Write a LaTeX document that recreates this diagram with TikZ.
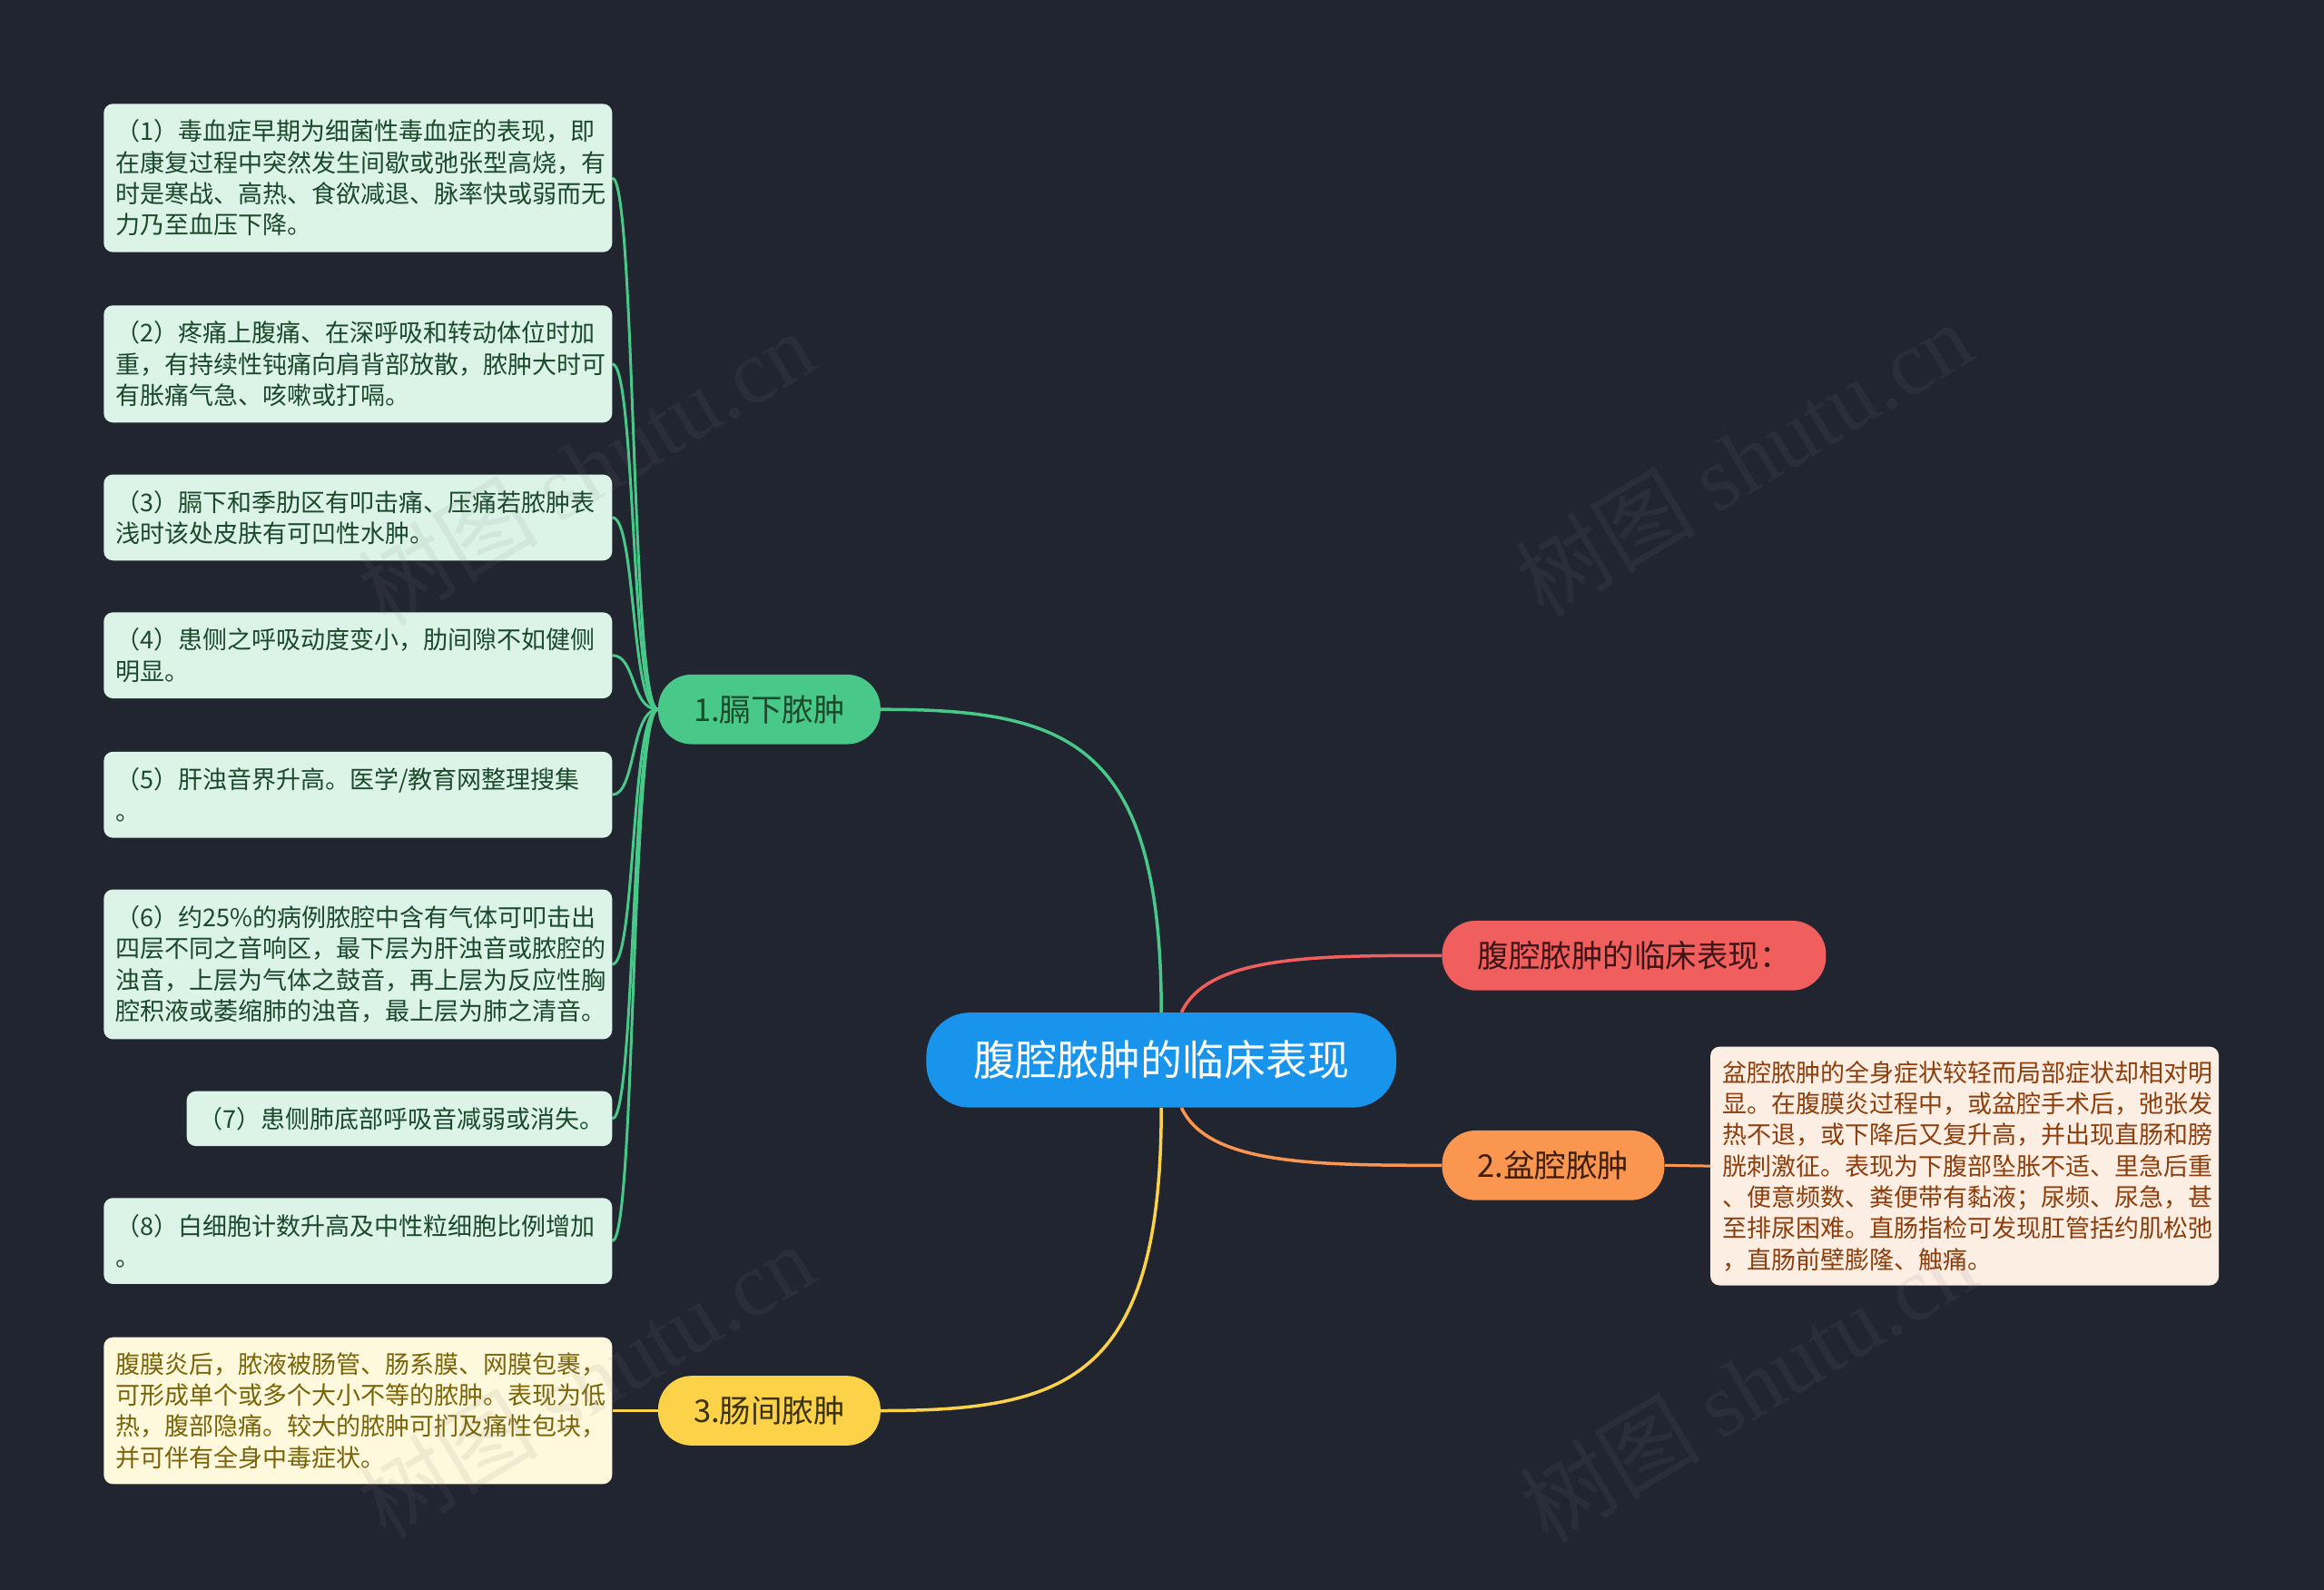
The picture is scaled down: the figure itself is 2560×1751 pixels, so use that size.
\documentclass[tikz,border=0pt]{standalone}
\usepackage{fontspec}
\setmainfont{Noto Sans CJK SC}
\newfontfamily\wmserif{Liberation Serif}
\definecolor{bgc}{RGB}{33,37,48}
\definecolor{cgreen}{RGB}{72,201,138}
\definecolor{lgreen}{RGB}{219,244,231}
\definecolor{tgreen}{RGB}{28,72,44}
\definecolor{cblue}{RGB}{24,148,236}
\definecolor{cred}{RGB}{241,94,94}
\definecolor{tred}{RGB}{60,22,22}
\definecolor{corange}{RGB}{250,150,80}
\definecolor{torange}{RGB}{60,30,10}
\definecolor{lorange}{RGB}{253,238,228}
\definecolor{dorange}{RGB}{140,62,12}
\definecolor{cyellow}{RGB}{252,211,72}
\definecolor{tyellow}{RGB}{60,50,10}
\definecolor{lyellow}{RGB}{254,248,220}
\definecolor{dyellow}{RGB}{122,100,10}
\pgfdeclarelayer{background}
\pgfsetlayers{background,main}
\begin{document}
\begin{tikzpicture}[x=1pt,y=-1pt,
  central/.style={fill=cblue, text=white, rounded corners=48pt, minimum width=517.6pt, minimum height=104.5pt, inner sep=0pt, font=\fontsize{46}{52}\selectfont},
  level1/.style={rounded corners=37pt, minimum height=76.7pt, inner sep=0pt, font=\fontsize{34.5}{38}\selectfont},
  detail/.style={rounded corners=10pt, text width=542pt, inner xsep=9pt, inner ysep=0pt, align=left, font=\fontsize{27}{34.3}\selectfont},
  gdetail/.style={detail, fill=lgreen, text=tgreen},
  mainline/.style={line width=3.5pt},
  subline/.style={line width=3pt, cgreen},
  wmark/.style={rotate=31, text=gray, opacity=0.11, font=\fontsize{100}{110}\selectfont}
]
\useasboundingbox (0,0) rectangle (2560,1751);

% central and level-1 nodes
\node[central] (c) at (1279.2,1167.4) {腹腔脓肿的临床表现};
\node[level1, fill=cgreen, text=tgreen, minimum width=244.9pt] (n1) at (847.4,781.2) {1.膈下脓肿};
\node[level1, fill=cred, text=tred, minimum width=422.9pt] (r) at (1800,1052.3) {腹腔脓肿的临床表现：};
\node[level1, fill=corange, text=torange, minimum width=244.9pt] (o) at (1711,1283.3) {2.盆腔脓肿};
\node[level1, fill=cyellow, text=tyellow, minimum width=244.9pt] (y) at (847.4,1553.5) {3.肠间脓肿};

% detail boxes of 1
\node[gdetail, minimum height=163.3pt] (b1) at (394.3,196) {\hspace*{4pt}（1）毒血症早期为细菌性毒血症的表现，即\\\hspace*{4pt}在康复过程中突然发生间歇或弛张型高烧，有\\\hspace*{4pt}时是寒战、高热、食欲减退、脉率快或弱而无\\\hspace*{4pt}力乃至血压下降。};
\node[gdetail, minimum height=129pt] (b2) at (394.3,400.8) {\hspace*{4pt}（2）疼痛上腹痛、在深呼吸和转动体位时加\\\hspace*{4pt}重，有持续性钝痛向肩背部放散，脓肿大时可\\\hspace*{4pt}有胀痛气急、咳嗽或打嗝。};
\node[gdetail, minimum height=94.7pt] (b3) at (394.3,569.9) {\hspace*{4pt}（3）膈下和季肋区有叩击痛、压痛若脓肿表\\\hspace*{4pt}浅时该处皮肤有可凹性水肿。};
\node[gdetail, minimum height=94.7pt] (b4) at (394.3,721.7) {\hspace*{4pt}（4）患侧之呼吸动度变小，肋间隙不如健侧\\\hspace*{4pt}明显。};
\node[gdetail, minimum height=94.7pt] (b5) at (394.3,875.2) {\hspace*{4pt}（5）肝浊音界升高。医学/教育网整理搜集\\\hspace*{4pt}。};
\node[gdetail, minimum height=164.9pt] (b6) at (394.3,1062) {\hspace*{4pt}（6）约25\%的病例脓腔中含有气体可叩击出\\\hspace*{4pt}四层不同之音响区，最下层为肝浊音或脓腔的\\\hspace*{4pt}浊音，上层为气体之鼓音，再上层为反应性胸\\\hspace*{4pt}腔积液或萎缩肺的浊音，最上层为肺之清音。};
\node[gdetail, text width=450.6pt, minimum height=60.4pt] (b7) at (440,1231.9) {\hspace*{4pt}（7）患侧肺底部呼吸音减弱或消失。};
\node[gdetail, minimum height=94.7pt] (b8) at (394.3,1366.6) {\hspace*{4pt}（8）白细胞计数升高及中性粒细胞比例增加\\\hspace*{4pt}。};

% detail of 3
\node[detail, fill=lyellow, text=dyellow, minimum height=161.6pt] (yd) at (394.3,1553.5) {\hspace*{4pt}腹膜炎后，脓液被肠管、肠系膜、网膜包裹，\\\hspace*{4pt}可形成单个或多个大小不等的脓肿。表现为低\\\hspace*{4pt}热，腹部隐痛。较大的脓肿可扪及痛性包块，\\\hspace*{4pt}并可伴有全身中毒症状。};

% detail of 2
\node[detail, fill=lorange, text=dorange, minimum height=262.8pt] (od) at (2164.1,1284.1) {\hspace*{4pt}盆腔脓肿的全身症状较轻而局部症状却相对明\\\hspace*{4pt}显。在腹膜炎过程中，或盆腔手术后，弛张发\\\hspace*{4pt}热不退，或下降后又复升高，并出现直肠和膀\\\hspace*{4pt}胱刺激征。表现为下腹部坠胀不适、里急后重\\\hspace*{4pt}、便意频数、粪便带有黏液；尿频、尿急，甚\\\hspace*{4pt}至排尿困难。直肠指检可发现肛管括约肌松弛\\\hspace*{4pt}，直肠前壁膨隆、触痛。};

\begin{pgfonlayer}{background}
\fill[bgc] (0,0) rectangle (2560,1751);
\draw[mainline, cgreen] (c.north) .. controls +(0,-299) and +(206,0) .. (n1.east);
\draw[mainline, cyellow] (c.south) .. controls +(0,299) and +(206,0) .. (y.east);
\draw[mainline, cred] (c.67) .. controls +(29,-63) and +(-139,0) .. (r.west);
\draw[mainline, corange] (c.-67) .. controls +(29,63) and +(-139,0) .. (o.west);
\foreach \b in {b1,b2,b3,b4,b5,b6,b7,b8}
  \draw[subline] (n1.west) .. controls +(-30,0) and +(26,0) .. (\b.east);
\draw[line width=3pt, cyellow] (y.west) -- (yd.east);
\draw[line width=3pt, corange] (o.east) -- (od.west);
\end{pgfonlayer}

% watermarks
\node[wmark] (w1) at (645,515) {树图 {\wmserif shutu.cn}};
\node[wmark] (w2) at (1920,505) {树图 {\wmserif shutu.cn}};
\node[wmark] (w3) at (645,1520) {树图 {\wmserif shutu.cn}};
\node[wmark] (w4) at (1925,1525) {树图 {\wmserif shutu.cn}};
\end{tikzpicture}
\end{document}
